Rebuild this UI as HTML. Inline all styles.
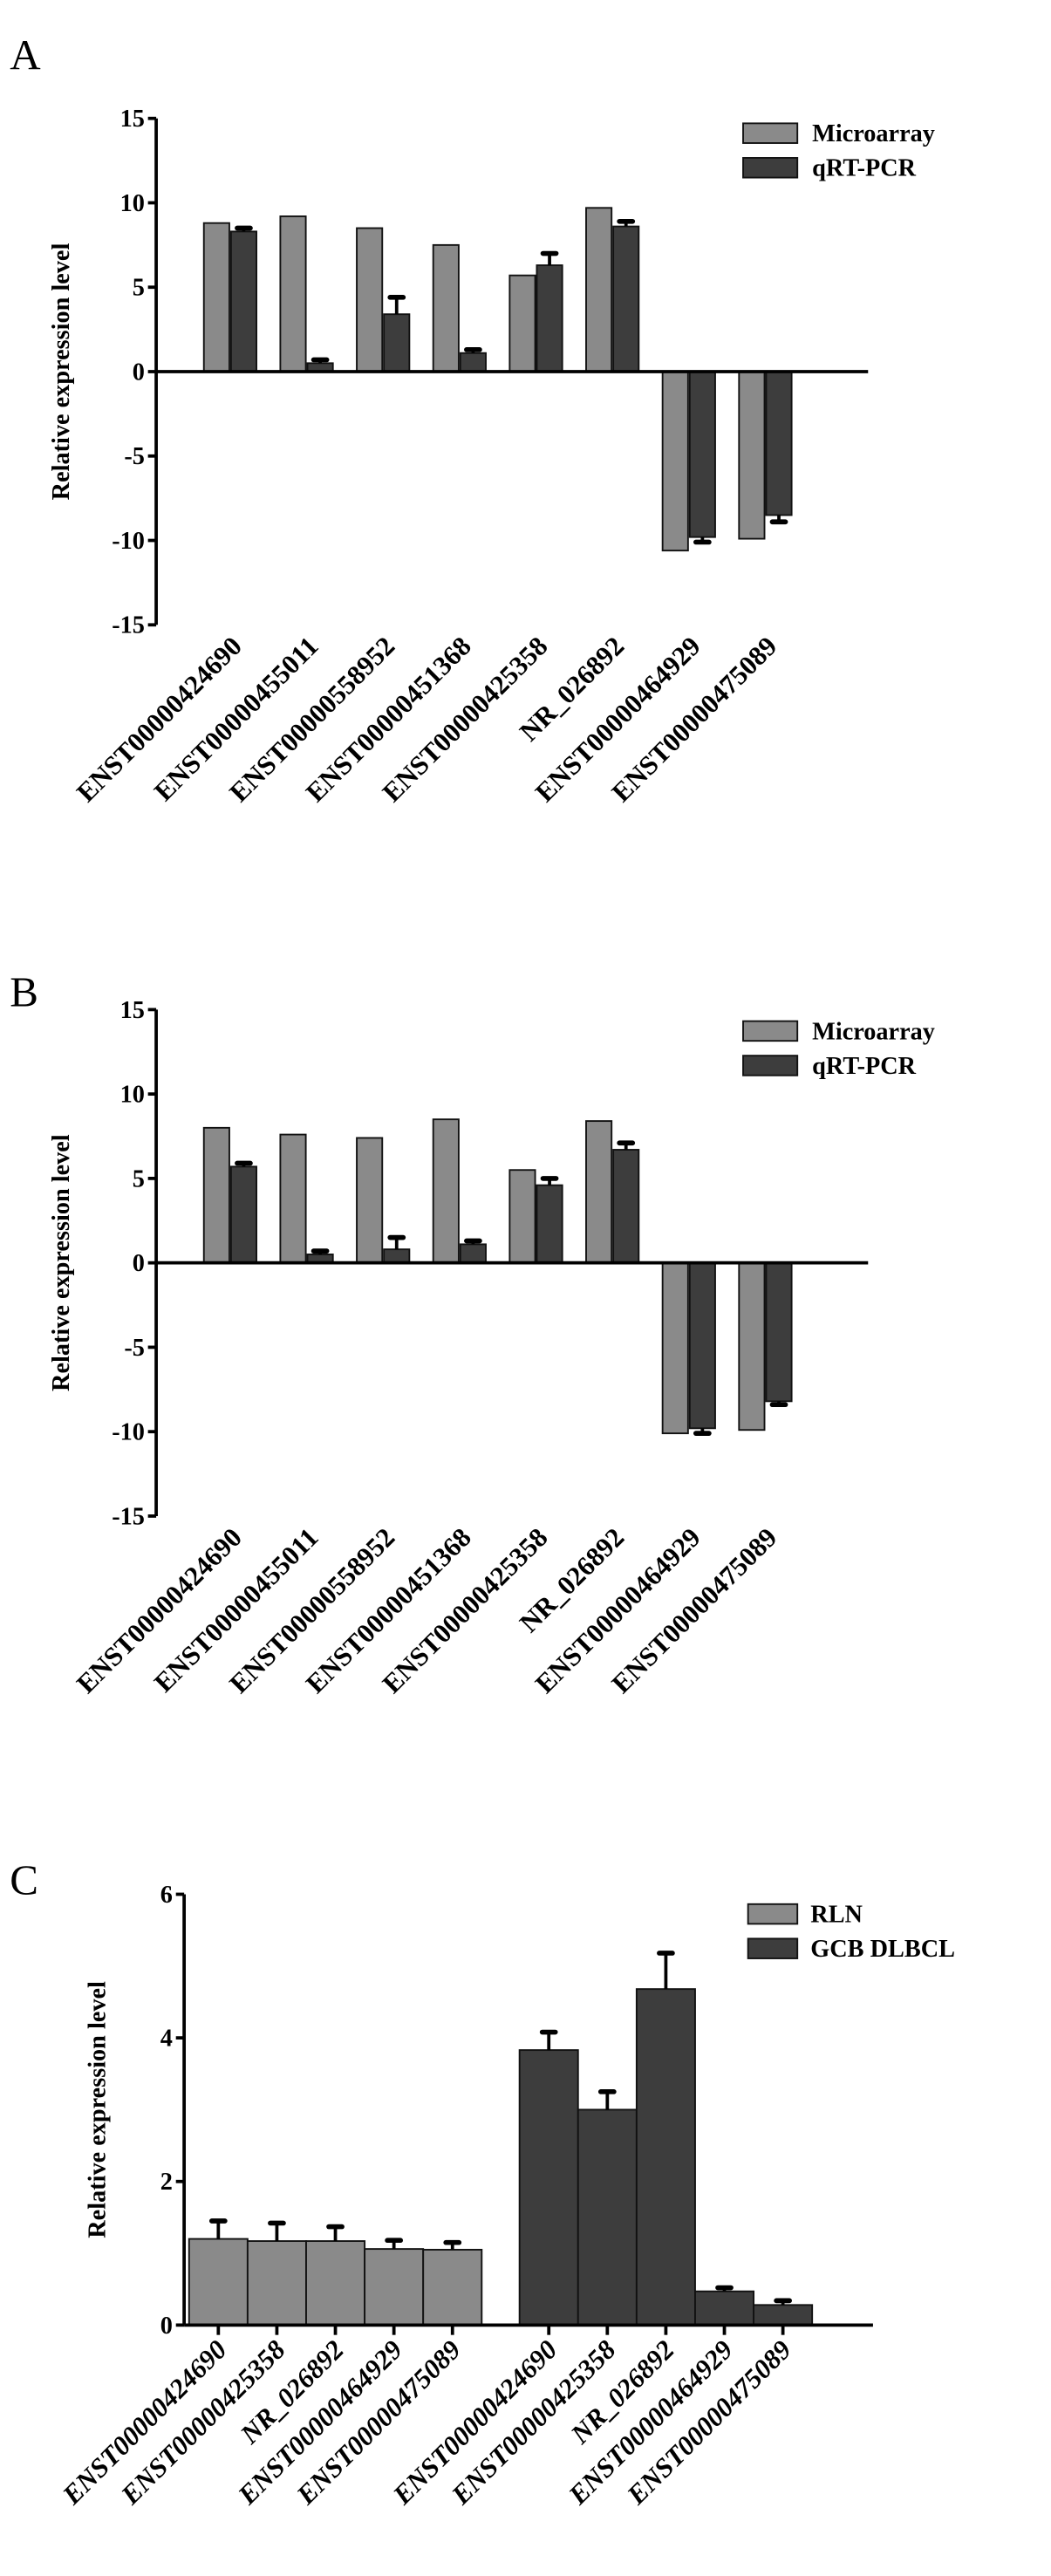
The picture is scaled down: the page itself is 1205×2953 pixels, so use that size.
<!DOCTYPE html>
<html><head><meta charset="utf-8"><style>
html,body{margin:0;padding:0;background:#fff;}
svg{display:block;}
text{font-family:"Liberation Serif",serif;font-weight:bold;fill:#000;}
</style></head><body>
<svg id="fig" width="1205" height="2953" viewBox="0 0 639.26 1566.6" xmlns="http://www.w3.org/2000/svg">
<text x="6" y="42" font-size="26" style="font-weight:normal">A</text>
<text x="6" y="612" font-size="26" style="font-weight:normal">B</text>
<text x="6" y="1152" font-size="26" style="font-weight:normal">C</text>
</svg>
<script>
const catsAB = ["ENST00000424690","ENST00000455011","ENST00000558952","ENST00000451368","ENST00000425358","NR_026892","ENST00000464929","ENST00000475089"];
const aMicro = [8.8, 9.2, 8.5, 7.5, 5.7, 9.7, -10.6, -9.9];
const aQrt = [8.3, 0.5, 3.4, 1.1, 6.3, 8.6, -9.8, -8.5];
const aQrtErr = [0.2, 0.2, 1.0, 0.2, 0.7, 0.3, 0.3, 0.4];
const bMicro = [8.0, 7.6, 7.4, 8.5, 5.5, 8.4, -10.1, -9.9];
const bQrt = [5.7, 0.5, 0.8, 1.1, 4.6, 6.7, -9.8, -8.2];
const bQrtErr = [0.2, 0.2, 0.7, 0.2, 0.4, 0.4, 0.3, 0.2];
const abTicks = [15, 10, 5, 0, -5, -10, -15];
const catsC = ["ENST00000424690","ENST00000425358","NR_026892","ENST00000464929","ENST00000475089"];
const cRln = [1.2, 1.17, 1.17, 1.06, 1.05];
const cRlnErr = [0.25, 0.25, 0.2, 0.12, 0.1];
const cGcb = [3.83, 3.0, 4.68, 0.47, 0.28];
const cGcbErr = [0.25, 0.25, 0.5, 0.05, 0.06];
const cTicks = [6, 4, 2, 0];

const NS = "http://www.w3.org/2000/svg";
const svg = document.getElementById("fig");
function mk(tag, attrs, parent) {
  const e = document.createElementNS(NS, tag);
  for (const k in attrs) e.setAttribute(k, attrs[k]);
  (parent || svg).appendChild(e);
  return e;
}
const LIGHT = "#8a8a8a", DARK = "#3d3d3d";
const TICKFS = 15, LABFS = 16.5, TITLEFS = 15, LEGFS = 15;

function errBar(g, cx, yv, ye) {
  const l = mk("line", {x1: cx, x2: cx, y1: yv, y2: ye, stroke: "#000", "stroke-width": 2}, g);
  
  
  const c = mk("line", {x1: cx - 4, x2: cx + 4, y1: ye, y2: ye, stroke: "#000", "stroke-width": 3, "stroke-linecap": "round"}, g);
  
  
}

function panelAB(name, top, micro, qrt, err, legY) {
  const g = mk("g", {});
  
  
  const x0 = 95, xEnd = 528;
  const y = v => top + (15 - v) * (308 / 30);
  const cx = i => 140 + i * 46.5;
  const ax = mk("line", {x1: x0, x2: x0, y1: y(15), y2: y(-15), stroke: "#000", "stroke-width": 2}, g);
  
  
  abTicks.forEach(t => {
    mk("line", {x1: x0 - 5, x2: x0, y1: y(t), y2: y(t), stroke: "#000", "stroke-width": 2}, g);
    const tl = mk("text", {x: x0 - 7, y: y(t) + 5, "font-size": TICKFS, "text-anchor": "end"}, g);
    tl.textContent = t;
    
    
  });
  const yt = mk("text", {x: 0, y: 0, "font-size": TITLEFS, "text-anchor": "middle", transform: `translate(42,${y(0)}) rotate(-90)`}, g);
  yt.textContent = "Relative expression level";
  
  
  catsAB.forEach((c, i) => {
    const bw = 15.5;
    const m = micro[i], q = qrt[i];
    const r1 = mk("rect", {x: cx(i) - bw - 0.5, y: Math.min(y(m), y(0)), width: bw, height: Math.abs(y(m) - y(0)), fill: LIGHT, stroke: "#111", "stroke-width": 1}, g);
    
    
    const r2 = mk("rect", {x: cx(i) + 0.5, y: Math.min(y(q), y(0)), width: bw, height: Math.abs(y(q) - y(0)), fill: DARK, stroke: "#111", "stroke-width": 1}, g);
    
    
    const sgn = q >= 0 ? 1 : -1;
    errBar(g, cx(i) + 0.5 + bw / 2, y(q), y(q + sgn * err[i]));
    const lx = cx(i) + 8, ly = y(-15) + 14;
    const lab = mk("text", {x: lx, y: ly, "font-size": LABFS, "text-anchor": "end", transform: `rotate(-45 ${lx} ${ly})`}, g);
    lab.textContent = c;
    
    
  });
  const xa = mk("line", {x1: x0, x2: xEnd, y1: y(0), y2: y(0), stroke: "#000", "stroke-width": 2}, g);
  
  
  [["Microarray", LIGHT], ["qRT-PCR", DARK]].forEach((l, k) => {
    const ly = legY + k * 21;
    const b = mk("rect", {x: 452, y: ly - 6, width: 33, height: 12, fill: l[1], stroke: "#111", "stroke-width": 1}, g);
    
    
    const t = mk("text", {x: 494, y: ly + 5, "font-size": LEGFS}, g);
    t.textContent = l[0];
    
    
  });
}
panelAB("panel-a-chart", 72, aMicro, aQrt, aQrtErr, 81);
panelAB("panel-b-chart", 614, bMicro, bQrt, bQrtErr, 627);

(function () {
  const g = mk("g", {});
  
  
  const x0 = 112, xEnd = 531;
  const y = v => 1414 - v * (262 / 6);
  const ax = mk("line", {x1: x0, x2: x0, y1: y(6), y2: y(0), stroke: "#000", "stroke-width": 2}, g);
  
  
  cTicks.forEach(t => {
    mk("line", {x1: x0 - 5, x2: x0, y1: y(t), y2: y(t), stroke: "#000", "stroke-width": 2}, g);
    const tl = mk("text", {x: x0 - 7, y: y(t) + 5, "font-size": TICKFS, "text-anchor": "end"}, g);
    tl.textContent = t;
    
    
  });
  const yt = mk("text", {x: 0, y: 0, "font-size": TITLEFS, "text-anchor": "middle", transform: `translate(64,${y(3)}) rotate(-90)`}, g);
  yt.textContent = "Relative expression level";
  
  
  const bw = 35.6;
  const groups = [[cRln, cRlnErr, 115, LIGHT, "bar-rln"], [cGcb, cGcbErr, 316, DARK, "bar-gcb-dlbcl"]];
  groups.forEach(gr => {
    catsC.forEach((c, i) => {
      const v = gr[0][i], x = gr[2] + i * bw;
      const r = mk("rect", {x: x, y: y(v), width: bw, height: y(0) - y(v), fill: gr[3], stroke: "#111", "stroke-width": 1}, g);
      
      
      errBar(g, x + bw / 2, y(v), y(v + gr[1][i]));
      mk("line", {x1: x + bw / 2, x2: x + bw / 2, y1: y(0), y2: y(0) + 6, stroke: "#000", "stroke-width": 2}, g);
      const lx = x + bw / 2 + 6, ly = y(0) + 16;
      const lab = mk("text", {x: lx, y: ly, "font-size": LABFS, "font-style": "italic", "text-anchor": "end", transform: `rotate(-45 ${lx} ${ly})`}, g);
      lab.textContent = c;
      
      
    });
  });
  const xa = mk("line", {x1: x0, x2: xEnd, y1: y(0), y2: y(0), stroke: "#000", "stroke-width": 2}, g);
  
  
  [["RLN", LIGHT], ["GCB DLBCL", DARK]].forEach((l, k) => {
    const ly = 1164 + k * 21;
    const b = mk("rect", {x: 455, y: ly - 6, width: 30, height: 12, fill: l[1], stroke: "#111", "stroke-width": 1}, g);
    
    
    const t = mk("text", {x: 493, y: ly + 5, "font-size": LEGFS}, g);
    t.textContent = l[0];
    
    
  });
})();
</script>
</body></html>
